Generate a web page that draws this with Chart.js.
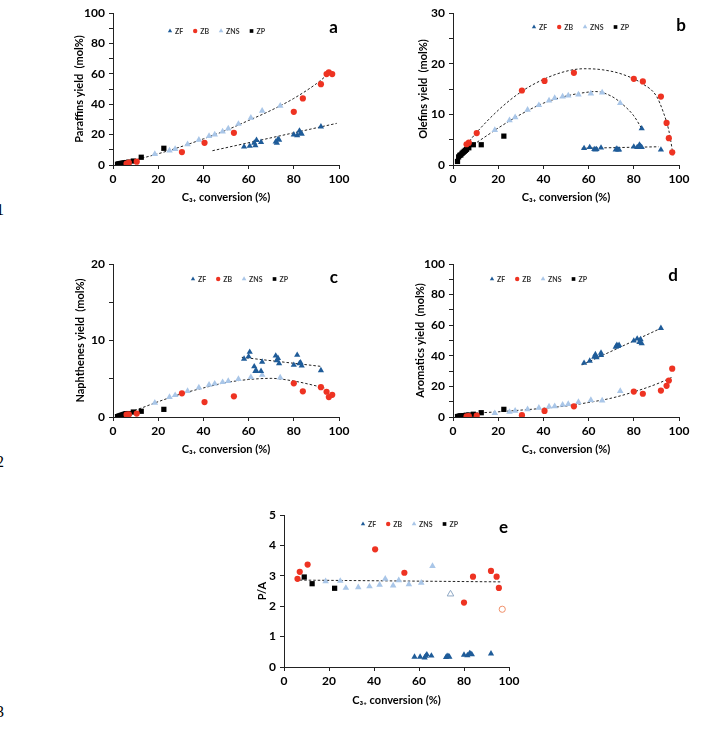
<!DOCTYPE html>
<html lang="en">
<head>
<meta charset="UTF-8">
<title>Product yields vs C3+ conversion</title>
<script src="https://cdn.jsdelivr.net/npm/chart.js"></script>
<style>
  body { margin: 0; background: #fff; }
  #page { position: relative; width: 702px; height: 750px; overflow: hidden; }
  canvas { position: absolute; }
  .num { position: absolute; left: -4px; font: 16px "Liberation Serif", serif; color: #000; }
</style>
</head>
<body>
<div id="page">
  <canvas id="chartA"></canvas>
  <canvas id="chartB"></canvas>
  <canvas id="chartC"></canvas>
  <canvas id="chartD"></canvas>
  <canvas id="chartE"></canvas>
  <span class="num" style="top:201px">1</span>
  <span class="num" style="top:453px">2</span>
  <span class="num" style="top:703px">3</span>
</div>
<script>
// x = C3+ conversion (%), y = yield / ratio
const xTicks = [0, 20, 40, 60, 80, 100];

// a - paraffins yield (mol%)
const paraffinsZF = [[58,12],[60.5,12.5],[62.5,14.5],[63,12.8],[63.5,16.3],[65.5,15],[72,15.3],[72.5,14.5],[73,16.9],[73.5,16.5],[80,20],[81.5,19.5],[82.5,22.5],[83,21],[83.5,20.5],[92,25.2]];
const paraffinsZB = [[6,1],[7,1.5],[10.5,2.2],[30.5,8.5],[40.5,14.6],[53.5,21.2],[80,35],[84,43.8],[92,53.2],[94.5,59.8],[95.5,61],[97,59.8]];
const paraffinsZNS = [[18.5,7.2],[25,9.5],[27.5,10.5],[33,13.6],[38,16.5],[42.5,19],[45,20],[48.5,22],[51,24],[55.5,27],[61,31],[66,35.7],[74,38.9]];
const paraffinsZP = [[2,0.5],[2.5,0.7],[3,0.8],[3.5,1],[4,1.1],[4.5,1.2],[5,1.3],[5.5,1.5],[6,1.6],[7,1.9],[9,2.6],[12.5,5.1],[22.5,11]];
const paraffinsTrend = [[7,2.2],[20,7.4],[30,12],[40,17.2],[50,22.8],[60,29.3],[70,36],[80,43.8],[90,53.5],[96,60.8]];
const paraffinsTrendZF = [[44,9.4],[99,27.4]];

// b - olefins yield (mol%)
const olefinsZF = [[58,3.3],[60.5,3.5],[62.5,3.1],[63,3.0],[63.5,3.1],[65.5,3.4],[72,3.0],[72.5,3.2],[73,3.0],[73.5,3.0],[80,3.6],[81.5,3.5],[82.5,4.0],[83,3.7],[83.5,3.5],[83.5,7.2],[92,3.0]];
const olefinsZB = [[6,4.1],[7,4.4],[10.5,6.3],[30.5,14.7],[40.5,16.6],[53.5,18.2],[80,17],[84,16.5],[92,13.5],[94.5,8.3],[95.5,5.3],[97,2.5]];
const olefinsZNS = [[18.5,6.9],[25,8.8],[27.5,9.4],[33,10.9],[38,11.8],[42.5,12.7],[45,13.2],[48.5,13.5],[51,13.7],[55.5,13.9],[61,14.1],[66,14.3],[74,12.2]];
const olefinsZP = [[2,0.7],[2.5,1.6],[3,1.9],[3.5,2.0],[4,2.3],[4.5,2.5],[5,2.7],[5.5,2.9],[6,3.1],[7,3.4],[9,4.0],[12.5,4.0],[22.5,5.7]];
const olefinsTrendZB = [[6,4],[10,6.2],[20,10.8],[30,14.4],[40,16.9],[50,18.5],[58,19],[66,18.8],[75,17.9],[84,16],[90,13.6],[93,10.5],[95.5,6.8],[97,3],[97.5,1.5]];
const olefinsTrendZNS = [[9,4],[15,5.8],[20,7.3],[30,10],[40,12.2],[50,13.6],[60,14.4],[63,14.5],[70,13.6],[75,12],[80,9.7],[83.5,7.2]];
const olefinsTrendZF = [[57,3.3],[91,3.6]];

// c - naphthenes yield (mol%)
const naphthenesZF = [[58,7.6],[60,7.9],[60.5,8.5],[62.5,6.6],[63,6.0],[63.5,6.0],[65.5,6.0],[66,7.2],[72,8.0],[72.5,7.4],[73,7.7],[73.5,7.0],[80,6.8],[81.5,8.1],[82.5,7.0],[83,7.1],[83.5,6.7],[92,6.1]];
const naphthenesZB = [[6,0.3],[7,0.35],[10.5,0.45],[30.5,3.1],[40.5,1.95],[53.5,2.7],[80,4.4],[84,3.35],[92,3.9],[94.5,3.3],[95.5,2.6],[97,2.9]];
const naphthenesZNS = [[18.5,1.85],[25,2.6],[27.5,2.85],[33,3.4],[38,3.85],[42.5,4.2],[45,4.35],[48.5,4.55],[51,4.7],[55.5,4.95],[61,5.2],[66,5.5],[74,5.15]];
const naphthenesZP = [[2,0.05],[2.5,0.1],[3,0.15],[3.5,0.2],[4,0.25],[4.5,0.3],[5,0.35],[5.5,0.4],[6,0.42],[7,0.45],[9,0.65],[12.5,0.75],[22.5,1.0]];
const naphthenesTrend = [[2,0.15],[10,0.9],[20,2.0],[30,3.0],[40,3.8],[50,4.5],[60,4.9],[70,5.05],[80,4.7],[88,4.2],[93.5,3.8]];
const naphthenesTrendZF = [[57,7.8],[92.5,6.6]];

// d - aromatics yield (mol%)
const aromaticsZF = [[58,35.3],[60.5,36.7],[62.5,39.3],[63,40.9],[63.5,39],[65.5,40.4],[65.5,41.9],[72,45.8],[72.5,47],[73,46.3],[73.5,47],[80,49.8],[81.5,51.1],[82.5,48.9],[83,50.7],[83.5,48],[92,58.1]];
const aromaticsZB = [[6,0.5],[7,0.6],[10.5,0.9],[30.5,1.2],[40.5,4],[53.5,7],[80,16.6],[84,15.2],[92,17.3],[94.5,20.4],[95.5,23.8],[97,31.6]];
const aromaticsZNS = [[18.5,2.5],[25,3.3],[27.5,4],[33,5],[38,6],[42.5,6.8],[45,7],[48.5,8],[51,8.5],[55.5,9.8],[61,11],[66,10.8],[74,17]];
const aromaticsZP = [[2,0.3],[2.5,0.4],[3,0.5],[3.5,0.6],[4,0.7],[4.5,0.8],[5,0.9],[5.5,1],[6,1.1],[7,1.3],[9,1.8],[12.5,2.8],[22.5,5]];
const aromaticsTrend = [[2,2],[10,2.6],[20,3.4],[30,4.5],[40,5.7],[50,7.2],[60,9.5],[70,12.3],[80,16.4],[90,21.5],[97,26]];
const aromaticsTrendZF = [[57,34],[92,58]];

// e - paraffins / aromatics ratio
const ratioZF = [[58,0.33],[60.5,0.33],[62.5,0.31],[63,0.36],[63.5,0.41],[65.5,0.37],[72,0.32],[72.5,0.36],[73,0.35],[73.5,0.33],[80,0.4],[81.5,0.38],[82.5,0.45],[83,0.43],[83.5,0.41],[92,0.44]];
const ratioZB = [[6,2.9],[7,3.13],[10.5,3.37],[40.5,3.87],[53.5,3.1],[80,2.12],[84,2.97],[92,3.16],[94.5,2.97],[95.5,2.6]];
const ratioZBOpen = [[97,1.9]];
const ratioZNS = [[18.5,2.82],[25,2.83],[27.5,2.6],[33,2.62],[38,2.65],[42.5,2.7],[45,2.9],[48.5,2.68],[51,2.85],[55.5,2.72],[61,2.77],[66,3.32]];
const ratioZNSOpen = [[74,2.4]];
const ratioZP = [[9,2.96],[12.5,2.74],[22.5,2.59]];
const ratioTrend = [[5,2.86],[97,2.8]];

const seriesNames = ['ZF', 'ZB', 'ZNS', 'ZP'];
const STYLE = {
  ZF:  { shape: 'triangle', color: '#1F5C99', r: 3.6 },
  ZB:  { shape: 'circle',   color: '#EE3322', r: 3.1 },
  ZNS: { shape: 'triangle', color: '#A9C6E8', r: 3.8 },
  ZP:  { shape: 'rect',     color: '#000000', r: 3.7 }
};

Chart.defaults.font.family = 'Lato, "Open Sans", sans-serif';
Chart.defaults.color = '#000';

// small legend + panel letter drawn inside the plot area
const panelDecor = {
  id: 'panelDecor',
  afterDraw(chart, args, opts) {
    const ctx = chart.ctx, area = chart.chartArea;
    let x = area.left + opts.legend[0];
    const y = area.top + opts.legend[1];
    ctx.save();
    ctx.font = 'bold 7px Lato';
    ctx.textBaseline = 'middle';
    chart.data.datasets.forEach(ds => {
      if (!ds.inLegend) return;
      const s = STYLE[ds.label];
      ctx.fillStyle = s.color;
      Chart.helpers.drawPoint(ctx, { pointStyle: s.shape, radius: s.r * 0.7, borderWidth: 0, rotation: 0 }, x, y);
      ctx.fillStyle = '#333';
      ctx.fillText(ds.label, x + 5, y + 0.5);
      x += 5 + ctx.measureText(ds.label).width + 12;
    });
    ctx.font = 'bold 17px Lato';
    ctx.textAlign = 'right';
    ctx.textBaseline = 'alphabetic';
    ctx.fillStyle = '#000';
    ctx.fillText(opts.letter, area.right + opts.letterPos[0], area.top + opts.letterPos[1]);
    ctx.restore();
  }
};

const panels = [
  { id: 'chartA', area: [113, 13, 339, 165], yMax: 100, yStep: 10, yLabelEvery: 20,
    yTitle: 'Paraffins yield  (mol%)', yTitleOff: 34, xTitleOff: 32,
    legend: [57, 18], letter: 'a', letterPos: [-1, 20],
    series: { ZF: paraffinsZF, ZB: paraffinsZB, ZNS: paraffinsZNS, ZP: paraffinsZP },
    trends: [paraffinsTrend, paraffinsTrendZF] },
  { id: 'chartB', area: [453, 13, 679, 165], yMax: 30, yStep: 5, yLabelEvery: 10,
    yTitle: 'Olefins yield  (mol%)', yTitleOff: 30, xTitleOff: 32,
    legend: [81, 14], letter: 'b', letterPos: [7, 18],
    series: { ZF: olefinsZF, ZB: olefinsZB, ZNS: olefinsZNS, ZP: olefinsZP },
    trends: [olefinsTrendZB, olefinsTrendZNS, olefinsTrendZF] },
  { id: 'chartC', area: [113, 264, 339, 417], yMax: 20, yStep: 5, yLabelEvery: 10,
    yTitle: 'Naphthenes yield  (mol%)', yTitleOff: 32.5, xTitleOff: 32.5,
    legend: [80, 15], letter: 'c', letterPos: [-1, 19],
    series: { ZF: naphthenesZF, ZB: naphthenesZB, ZNS: naphthenesZNS, ZP: naphthenesZP },
    trends: [naphthenesTrend, naphthenesTrendZF] },
  { id: 'chartD', area: [453, 264, 679, 417], yMax: 100, yStep: 10, yLabelEvery: 20,
    yTitle: 'Aromatics yield  (mol%)', yTitleOff: 32.5, xTitleOff: 32.5,
    legend: [39, 15], letter: 'd', letterPos: [-1, 17],
    series: { ZF: aromaticsZF, ZB: aromaticsZB, ZNS: aromaticsZNS, ZP: aromaticsZP },
    trends: [aromaticsTrend, aromaticsTrendZF] },
  { id: 'chartE', area: [284, 515, 509, 667], yMax: 5, yStep: 1, yLabelEvery: 1,
    yTitle: 'P/A', yTitleOff: 22, xTitleOff: 33.5,
    legend: [79, 9], letter: 'e', letterPos: [-1, 18],
    series: { ZF: ratioZF, ZB: ratioZB, ZNS: ratioZNS, ZP: ratioZP },
    open: [{ data: ratioZBOpen, shape: 'circle', color: '#F0906A', r: 3.1 },
           { data: ratioZNSOpen, shape: 'triangle', color: '#8FA8C4', r: 3.8 }],
    trends: [ratioTrend] }
];

const AXIS_W = 60, AXIS_H = 50, PAD_T = 20, PAD_R = 25;
const TITLE_FONT = { size: 11, weight: 'bold' };
const TICK_FONT = { size: 12, weight: 'bold' };

function makeChart(p) {
  const [L, T, R, B] = p.area;
  const cv = document.getElementById(p.id);
  cv.width = R - L + AXIS_W + PAD_R;
  cv.height = B - T + PAD_T + AXIS_H;
  cv.style.left = (L - AXIS_W) + 'px';
  cv.style.top = (T - PAD_T) + 'px';

  const datasets = [];
  seriesNames.forEach(k => {
    const s = STYLE[k];
    datasets.push({
      label: k, data: p.series[k], inLegend: true,
      pointStyle: s.shape, pointRadius: s.r,
      pointBackgroundColor: s.color, pointBorderColor: s.color, pointBorderWidth: 0
    });
  });
  (p.open || []).forEach(o => {
    datasets.push({
      label: '', data: o.data, pointStyle: o.shape, pointRadius: o.r,
      pointBackgroundColor: '#fff', pointBorderColor: o.color, pointBorderWidth: 1
    });
  });
  p.trends.forEach(t => {
    datasets.push({
      label: '', data: t, showLine: true, pointRadius: 0,
      borderColor: '#222', borderWidth: 1, borderDash: [2.5, 2],
      cubicInterpolationMode: 'monotone', fill: false
    });
  });

  const lh = TITLE_FONT.size * 1.2;
  new Chart(cv, {
    type: 'scatter',
    data: { datasets: datasets },
    plugins: [panelDecor],
    options: {
      responsive: false, animation: false, devicePixelRatio: 1, events: [],
      layout: { padding: { top: PAD_T, right: PAD_R, left: 0, bottom: 0 } },
      plugins: {
        legend: { display: false }, tooltip: { enabled: false },
        panelDecor: { legend: p.legend, letter: p.letter, letterPos: p.letterPos }
      },
      scales: {
        x: {
          type: 'linear', min: 0, max: 100,
          afterFit: s => { s.height = AXIS_H; },
          afterBuildTicks: s => { s.ticks = xTicks.map(v => ({ value: v })); },
          ticks: { font: TICK_FONT, color: '#000', padding: 3, maxRotation: 0 },
          grid: { drawOnChartArea: false, tickLength: 4, color: '#222' },
          border: { color: '#222', width: 1 },
          title: { display: true, text: 'C₃₊ conversion (%)', font: TITLE_FONT, color: '#000',
                   padding: { top: 0, bottom: AXIS_H - p.xTitleOff - lh / 2 } }
        },
        y: {
          type: 'linear', min: 0, max: p.yMax,
          afterFit: s => { s.width = AXIS_W; },
          ticks: { stepSize: p.yStep, autoSkip: false, font: TICK_FONT, color: '#000', padding: 4,
                   callback: v => (v % p.yLabelEvery === 0 ? v : '') },
          grid: { drawOnChartArea: false, tickLength: 4, color: '#222' },
          border: { color: '#222', width: 1 },
          title: { display: true, text: p.yTitle, font: TITLE_FONT, color: '#000',
                   padding: { top: AXIS_W - p.yTitleOff - lh / 2, bottom: 0 } }
        }
      }
    }
  });
}

panels.forEach(makeChart);
</script>
</body>
</html>
